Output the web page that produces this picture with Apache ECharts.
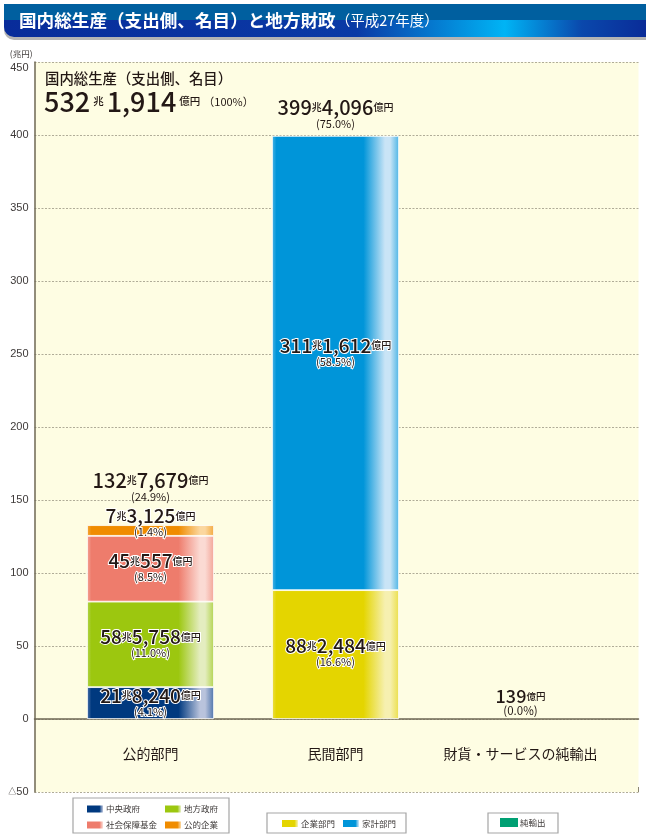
<!DOCTYPE html>
<html><head><meta charset="utf-8">
<style>html,body{margin:0;padding:0;background:#fff}#c{width:650px;height:836px}</style>
<script src="https://cdn.jsdelivr.net/npm/echarts@6/dist/echarts.min.js"></script>
</head><body><div id="c"></div>
<script>
const FONT = '"Noto Sans CJK JP","Noto Sans",sans-serif';
const categories = ['公的部門', '民間部門', '財貨・サービスの純輸出'];
const central = [21.824, null, null];
const local = [58.5758, null, null];
const socialSecurity = [45.0557, null, null];
const publicCorp = [7.3125, null, null];
const corporate = [null, 88.2484, null];
const household = [null, 311.1612, null];
const netExports = [null, null, 0.0139];
const totals = [132.7679, 399.4096, null];
const totalLabels = [['132', '7,679', '24.9'], ['399', '4,096', '75.0'], null];
const yTicks = { min: -50, max: 450, interval: 50 };

const chart = echarts.init(document.getElementById('c'));
const sheen = (c, light, edge) => new echarts.graphic.LinearGradient(0, 0, 1, 0, [
  { offset: 0, color: edge }, { offset: 0.035, color: c }, { offset: 0.72, color: c },
  { offset: 0.89, color: light }, { offset: 0.93, color: light }, { offset: 1, color: edge }
]);
const mkRich = (n, u, p, lh) => ({
  n: { fontFamily: FONT, fontSize: n, fontWeight: 500, color: '#231815', lineHeight: lh },
  u: { fontFamily: FONT, fontSize: u, fontWeight: 500, color: '#231815', lineHeight: lh },
  p: { fontFamily: FONT, fontSize: p, color: '#231815', lineHeight: 15 }
});
const rich = mkRich(19, 10, 11, 17);
const halo = { textBorderColor: '#fff', textBorderWidth: 2 };
const richHalo = {};
Object.keys(rich).forEach(k => richHalo[k] = Object.assign({}, rich[k], halo));
const amount = (cho, oku, pct) =>
  (cho ? `{n|${cho}}{u|兆}` : '') + `{n|${oku}}{u|億円}\n{p|(${pct}%)}`;

function stackBar(name, data, c, light, edge, cho, oku, pct, offset) {
  return {
    name, type: 'bar', stack: 'gdp', xAxisIndex: 1, yAxisIndex: 1, data, barWidth: 127,
    itemStyle: { color: sheen(c, light, edge), borderColor: '#fff', borderWidth: 0.8 },
    label: { show: true, position: 'inside', offset: offset || [0, 0], rich: richHalo,
      formatter: () => amount(cho, oku, pct) }
  };
}
const legendBase = {
  orient: 'vertical', icon: 'rect', itemWidth: 18, itemHeight: 9, itemGap: 5, padding: 0, selectedMode: false,
  textStyle: { fontFamily: FONT, fontSize: 8.5, color: '#3e3a39', padding: [0, 0, 0, -3] }
};
const frame = (x, y, w, h) => ({ type: 'rect', z: 1, shape: { x, y, width: w, height: h },
  style: { fill: '#fff', stroke: '#a5a5a5', lineWidth: 1.2 } });

chart.setOption({
  animation: false,
  backgroundColor: '#fff',
  title: [
    { left: 19, top: 12, padding: 0, z: 20, textStyle: { rich: {
        a: { fontFamily: FONT, fontSize: 17.6, fontWeight: 'bold', color: '#fff' },
        b: { fontFamily: FONT, fontSize: 14.5, fontWeight: 'normal', color: '#fff' } } },
      text: '{a|国内総生産（支出側、名目）と地方財政}{b|（平成27年度）}' },
    { left: 45, top: 71, padding: 0, z: 20, text: '国内総生産（支出側、名目）',
      textStyle: { fontFamily: FONT, fontSize: 14.4, fontWeight: 500, color: '#231815' } },
    { left: 44, top: 88, padding: 0, z: 20, textStyle: { rich: {
        n: { fontFamily: FONT, fontSize: 27, fontWeight: 500, color: '#231815' },
        u: { fontFamily: FONT, fontSize: 10.5, fontWeight: 500, color: '#231815', padding: [0, 3, 0, 3] },
        p: { fontFamily: FONT, fontSize: 11, fontWeight: 'normal', color: '#231815' } } },
      text: '{n|532}{u|兆}{n|1,914}{u|億円}{p|（100%）}' }
  ],
  graphic: [
    { type: 'rect', z: 0, shape: { x: 4, y: 7, width: 642, height: 33, r: [0, 0, 0, 10] }, style: { fill: '#b4b4b4' } },
    { type: 'rect', z: 1, shape: { x: 4, y: 4, width: 642, height: 33, r: [0, 0, 0, 10] },
      style: { fill: new echarts.graphic.LinearGradient(0, 0, 1, 0, [
        { offset: 0, color: '#082c9a' }, { offset: 0.55, color: '#0a3aa6' }, { offset: 0.78, color: '#00b4f5' },
        { offset: 0.9, color: '#0a48ac' }, { offset: 1, color: '#0a2c98' } ]) } },
    { type: 'rect', z: 2, shape: { x: 4, y: 4, width: 642, height: 16 }, style: { fill: '#005f9f' } },
    frame(73, 798, 156, 35), frame(267, 813, 139, 20), frame(488, 813, 70, 20),
    { type: 'line', z: 5, shape: { x1: 638.5, y1: 787, x2: 638.5, y2: 792 }, style: { stroke: '#8c8672', lineWidth: 1 } }
  ],
  grid: [
    { left: 34.5, top: 62, width: 604, height: 730, show: true, backgroundColor: '#fefde3', borderWidth: 0 },
    { left: 58, top: 62, width: 555, height: 730, show: false }
  ],
  xAxis: [
    { type: 'value', gridIndex: 0, min: 0, max: 1, splitLine: { show: false }, axisTick: { show: false }, axisLabel: { show: false },
      axisLine: { show: true, onZero: true, lineStyle: { color: '#6e6754', width: 1.5 } } },
    { type: 'category', gridIndex: 1, data: categories, z: 10, offset: -38,
      axisLine: { show: false, onZero: false }, axisTick: { show: false },
      axisLabel: { margin: -7, interval: 0, fontFamily: FONT, fontSize: 14, color: '#231815', hideOverlap: false } }
  ],
  yAxis: [
    Object.assign({ type: 'value', gridIndex: 0,
      name: '(兆円)', nameLocation: 'end', nameGap: 4,
      nameTextStyle: { fontFamily: FONT, fontSize: 8.5, color: '#3e3a39', align: 'right', padding: [0, 2, 0, 0] },
      axisLine: { show: true, onZero: false, lineStyle: { color: '#6e6754', width: 1.5 } }, axisTick: { show: false },
      axisLabel: { margin: 6, fontFamily: 'Liberation Sans,' + FONT, fontSize: 11, color: '#3e3a39', verticalAlignMaxLabel: 'top',
        rich: { s: { fontSize: 8, color: '#3e3a39', padding: [0, 0, 0, 0] } },
        formatter: v => v < 0 ? '{s|△}' + Math.abs(v) : String(v) },
      splitLine: { show: true, lineStyle: { color: '#b0ac98', type: [2, 1.5], width: 1 } } }, yTicks),
    Object.assign({ type: 'value', gridIndex: 1, axisLine: { show: false }, axisTick: { show: false }, axisLabel: { show: false }, splitLine: { show: false } }, yTicks)
  ],
  legend: [
    Object.assign({}, legendBase, { left: 85, top: 803.5, z: 8, data: ['中央政府', '社会保障基金'] }),
    Object.assign({}, legendBase, { left: 163, top: 803.5, z: 8, data: ['地方政府', '公的企業'] }),
    Object.assign({}, legendBase, { left: 280, top: 818, z: 8, data: ['企業部門'] }),
    Object.assign({}, legendBase, { left: 341, top: 818, z: 8, data: ['家計部門'] }),
    Object.assign({}, legendBase, { left: 500, top: 818, z: 8, data: ['純輸出'] })
  ],
  series: [
    stackBar('中央政府', central, '#00397f', '#b9c3dc', '#4f75ab', '21', '8,240', '4.1'),
    stackBar('地方政府', local, '#9cc70f', '#e4edc0', '#b3d44f', '58', '5,758', '11.0'),
    stackBar('社会保障基金', socialSecurity, '#ee7c6c', '#fbdad3', '#f3a598', '45', '557', '8.5'),
    stackBar('公的企業', publicCorp, '#f08c00', '#fbd79f', '#f4aa3f', '7', '3,125', '1.4', [0, -7]),
    stackBar('企業部門', corporate, '#e4d500', '#f6f0b0', '#ebdf4a', '88', '2,484', '16.6', [0, -1]),
    stackBar('家計部門', household, '#0095d9', '#c9e4f6', '#4db5e5', '311', '1,612', '58.5', [0, -10]),
    { name: '純輸出', type: 'bar', stack: 'gdp', xAxisIndex: 1, yAxisIndex: 1, data: netExports, barWidth: 127,
      itemStyle: { color: '#00a073' },
      label: { show: true, position: 'top', distance: 1, rich: mkRich(18, 9.5, 11.5, 14), formatter: () => amount('', '139', '0.0') } },
    { name: '合計', type: 'scatter', xAxisIndex: 1, yAxisIndex: 1, data: totals, symbolSize: 0, silent: true,
      itemStyle: { opacity: 1 },
      label: { show: true, position: 'top', distance: 0, opacity: 1, rich: mkRich(20, 10, 11, 17),
        formatter: p => { const t = totalLabels[p.dataIndex]; return amount(t[0], t[1], t[2]); } },
      labelLayout: (p) => p.dataIndex === 0 ? { dy: -21 } : { dy: -5 } }
  ]
});
</script></body></html>
